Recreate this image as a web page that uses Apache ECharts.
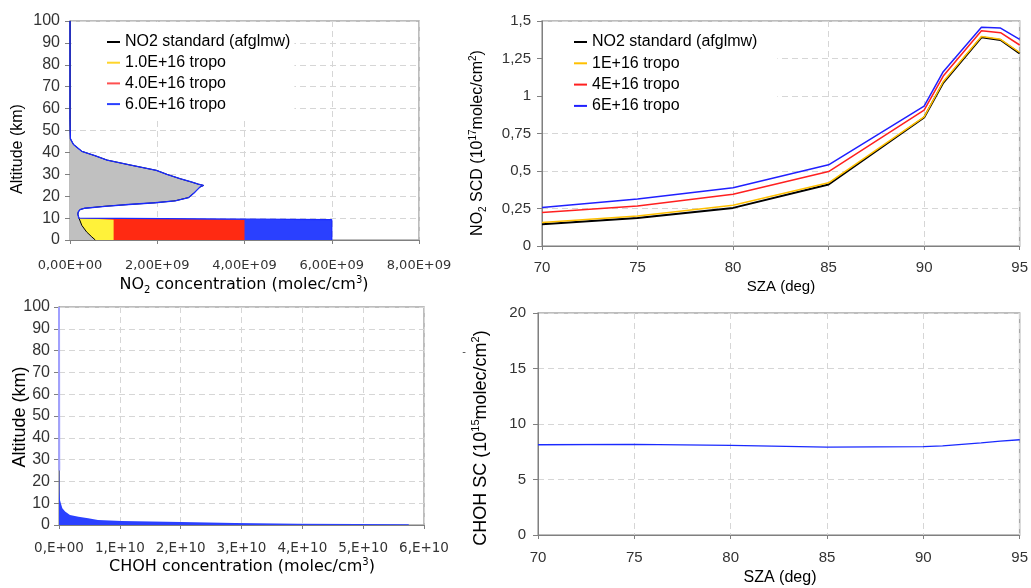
<!DOCTYPE html>
<html>
<head>
<meta charset="utf-8">
<script src="https://cdn.jsdelivr.net/npm/echarts@6/dist/echarts.min.js"></script>
<style>
html,body{margin:0;padding:0;background:#fff;}
#c{width:1031px;height:588px;}
</style>
</head>
<body>
<div id="c"></div>
<script>
// ---------- Top-left: NO2 profiles (concentration in units of 1E9 molec/cm3) ----------
const altStd = [0, 1.4, 3.7, 6.7, 9.8, 10.6, 11.8, 12.8, 13.9, 14.5, 15.4, 16.2, 17.0, 17.9, 19.4, 21.6, 23.0, 24.2, 24.9, 25.5, 26.5, 28.0, 30.0, 31.8, 34.4, 36.5, 38.5, 40.5, 43.6, 46.2, 50, 55, 100];
const no2Std = [0.58, 0.50, 0.38, 0.27, 0.21, 0.18, 0.18, 0.19, 0.23, 0.34, 0.80, 1.34, 1.95, 2.41, 2.72, 2.85, 2.92, 2.98, 3.06, 2.94, 2.78, 2.52, 2.22, 1.98, 1.34, 0.85, 0.57, 0.27, 0.08, 0.01, 0.004, 0, 0];
const tropoAlt = [0, 9.3, 10.0];
const tropo1 = [1.0, 1.0, 0.2];
const tropo4 = [4.0, 4.0, 0.2];
const tropo6 = [6.0, 6.0, 0.2];
const no2XTicks = ['0,00E+00', '2,00E+09', '4,00E+09', '6,00E+09', '8,00E+09'];

// ---------- Top-right: NO2 SCD vs SZA (1E17 molec/cm2) ----------
const sza = [70, 75, 80, 85, 90, 91, 93, 94, 95];
const scdStd = [0.145, 0.187, 0.254, 0.410, 0.857, 1.088, 1.391, 1.373, 1.284];
const scd1 = [0.156, 0.200, 0.272, 0.421, 0.861, 1.095, 1.397, 1.378, 1.290];
const scd4 = [0.223, 0.267, 0.345, 0.496, 0.906, 1.133, 1.435, 1.422, 1.340];
const scd6 = [0.256, 0.314, 0.389, 0.541, 0.933, 1.162, 1.458, 1.453, 1.378];

// ---------- Bottom-left: CHOH profile (units of 1E10 molec/cm3) ----------
const altChoh = [0, 0.3, 0.46, 0.6, 0.9, 1.4, 1.85, 2.3, 3.1, 3.8, 4.6, 6.2, 7.7, 10, 11.5, 16, 25, 25.5, 100];
const choh = [5.75, 5.75, 4.9, 3.92, 2.89, 2.01, 1.03, 0.64, 0.48, 0.32, 0.18, 0.10, 0.055, 0.03, 0.016, 0.008, 0.004, 0, 0];
const chohXTicks = ['0,E+00', '1,E+10', '2,E+10', '3,E+10', '4,E+10', '5,E+10', '6,E+10'];

// ---------- Bottom-right: CHOH SC vs SZA (1E15 molec/cm2) ----------
const szaC = [70, 75, 80, 85, 90, 91, 93, 94, 95];
const chohSC = [8.13, 8.16, 8.07, 7.92, 7.96, 8.03, 8.30, 8.45, 8.58];

// ---------- helpers ----------
const C_AXIS = '#808080', C_GRID = '#d6d6d6', C_LBL = '#333';
const SPLIT = {show: true, lineStyle: {color: C_GRID, type: [6, 4], width: 1}};
function pairs(xs, ys) { return xs.map((x, i) => [x, ys[i]]); }
function fillSeries(name, gi, xs, ys, color, z) {
  return {
    type: 'custom', name: name, xAxisIndex: gi, yAxisIndex: gi, z: z, silent: true,
    itemStyle: {color: color},
    encode: {x: 0, y: 1},
    data: pairs(xs, ys),
    renderItem: function (params, api) {
      if (params.dataIndex !== 0) return null;
      const pts = [api.coord([0, ys[0]])];
      for (let i = 0; i < xs.length; i++) pts.push(api.coord([xs[i], ys[i]]));
      pts.push(api.coord([0, ys[ys.length - 1]]));
      return {type: 'polygon', shape: {points: pts}, style: {fill: color}};
    }
  };
}
function lineSeries(name, gi, data, color, width, z) {
  return {type: 'line', name: name, xAxisIndex: gi, yAxisIndex: gi, data: data, z: z,
    showSymbol: false, symbol: 'none', lineStyle: {color: color, width: width}, itemStyle: {color: color}};
}
function xAx(gi, min, max, interval, fmt, fontFamily, fontSize, margin) {
  return {gridIndex: gi, type: 'value', min: min, max: max, interval: interval,
    axisLine: {show: true, onZero: false, lineStyle: {color: C_AXIS}},
    axisTick: {show: true, length: 4, lineStyle: {color: C_AXIS}},
    axisLabel: {formatter: fmt, fontFamily: fontFamily, fontSize: fontSize, color: C_LBL, margin: margin},
    splitLine: SPLIT};
}
function yAx(gi, min, max, interval, fmt, fontSize, margin) {
  return {gridIndex: gi, type: 'value', min: min, max: max, interval: interval,
    axisLine: {show: true, onZero: false, lineStyle: {color: C_AXIS}},
    axisTick: {show: true, length: 5, lineStyle: {color: C_AXIS}},
    axisLabel: {formatter: fmt, fontFamily: 'Liberation Sans', fontSize: fontSize, color: C_LBL, margin: margin},
    splitLine: SPLIT};
}
const comma = v => String(v).replace('.', ',');

const blueLine = pairs(tropo6, tropoAlt).concat(pairs(no2Std, altStd).filter(p => p[1] > 10));

const gridBase = {show: true, borderColor: '#a8a8a8', borderWidth: 1.5, backgroundColor: '#fff'};
const option = {
  animation: false,
  backgroundColor: '#fff',
  grid: [
    Object.assign({left: 70, top: 21, width: 349, height: 219}, gridBase),
    Object.assign({left: 542, top: 21, width: 478, height: 225}, gridBase),
    Object.assign({left: 59, top: 307, width: 365, height: 218}, gridBase),
    Object.assign({left: 538, top: 313, width: 483, height: 222}, gridBase)
  ],
  xAxis: [
    xAx(0, 0, 8, 2, v => no2XTicks[Math.round(v / 2)], 'DejaVu Sans', 13, 19),
    xAx(1, 70, 95, 5, v => String(v), 'Liberation Sans', 15, 14),
    xAx(2, 0, 6, 1, v => chohXTicks[Math.round(v)], 'DejaVu Sans', 13.5, 16),
    xAx(3, 70, 95, 5, v => String(v), 'Liberation Sans', 15, 15)
  ],
  yAxis: [
    yAx(0, 0, 100, 10, v => String(v), 16, 10),
    yAx(1, 0, 1.5, 0.25, comma, 15, 11),
    yAx(2, 0, 100, 10, v => String(v), 16, 9),
    yAx(3, 0, 20, 5, v => String(v), 15, 12)
  ],
  legend: [
    {orient: 'vertical', left: 72, top: 22, padding: [12, 4, 8, 35], backgroundColor: '#fff',
     itemWidth: 13, itemHeight: 2, itemGap: 4.7, icon: 'rect',
     textStyle: {fontFamily: 'Liberation Sans', fontSize: 16, lineHeight: 16, color: '#000'},
     data: [
       {name: 'NO2 standard (afglmw)', itemStyle: {color: '#000'}},
       {name: '1.0E+16 tropo', itemStyle: {color: '#ffd52a'}},
       {name: '4.0E+16 tropo', itemStyle: {color: '#ff5050'}},
       {name: '6.0E+16 tropo', itemStyle: {color: '#2a40ff'}}
     ]},
    {orient: 'vertical', left: 543, top: 22, padding: [12, 20, 13, 31], backgroundColor: '#fff',
     itemWidth: 13, itemHeight: 2, itemGap: 5.3, icon: 'rect',
     textStyle: {fontFamily: 'Liberation Sans', fontSize: 16, lineHeight: 16, color: '#000'},
     data: [
       {name: 'NO2 standard (afglmw)', itemStyle: {color: '#000'}},
       {name: '1E+16 tropo', itemStyle: {color: '#ffc000'}},
       {name: '4E+16 tropo', itemStyle: {color: '#ff2020'}},
       {name: '6E+16 tropo', itemStyle: {color: '#2020ff'}}
     ]}
  ],
  series: [
    fillSeries('6.0E+16 tropo', 0, tropo6, tropoAlt, '#2a40ff', 2),
    fillSeries('4.0E+16 tropo', 0, tropo4, tropoAlt, '#ff2a12', 3),
    fillSeries('1.0E+16 tropo', 0, tropo1, tropoAlt, '#fff23a', 4),
    fillSeries('std fill', 0, no2Std, altStd, '#c0c0c0', 5),
    lineSeries('NO2 standard (afglmw)', 0, pairs(no2Std, altStd), '#000', 1, 6),
    lineSeries('6.0E+16 tropo', 0, blueLine, '#1a2aff', 1.3, 7),
    lineSeries('NO2 standard (afglmw)', 1, pairs(sza, scdStd), '#000', 2, 6),
    lineSeries('1E+16 tropo', 1, pairs(sza, scd1), '#ffc000', 1.5, 6),
    lineSeries('4E+16 tropo', 1, pairs(sza, scd4), '#ff2020', 1.5, 6),
    lineSeries('6E+16 tropo', 1, pairs(sza, scd6), '#2020ff', 1.5, 6),
    fillSeries('CHOH fill', 2, choh, altChoh, '#2a40ff', 3),
    lineSeries('CHOH profile', 2, pairs(choh, altChoh).filter(p => p[1] >= 25), '#a0a0ff', 2, 4),
    lineSeries('CHOH SC', 3, pairs(szaC, chohSC), '#1a2aff', 1.3, 6)
  ],
  graphic: [
    {type: 'text', x: 18, y: 149, rotation: Math.PI / 2,
     style: {text: 'Altitude (km)', fontFamily: 'Liberation Sans', fontSize: 16, fill: '#000', align: 'center', verticalAlign: 'middle'}},
    {type: 'text', x: 244, y: 285,
     style: {text: '{n|NO}{s|2}{n| concentration (molec/cm}{p|3}{n|)}', align: 'center', verticalAlign: 'middle', fill: '#000',
       rich: {n: {fontFamily: 'DejaVu Sans', fontSize: 16, lineHeight: 20, fill: '#000'},
              s: {fontFamily: 'DejaVu Sans', fontSize: 10, lineHeight: 10, verticalAlign: 'bottom', fill: '#000'},
              p: {fontFamily: 'DejaVu Sans', fontSize: 10, lineHeight: 10, verticalAlign: 'top', fill: '#000'}}}},
    {type: 'text', x: 478, y: 143, rotation: Math.PI / 2,
     style: {text: '{n|NO}{s|2}{n| SCD (10}{p|17}{n|molec/cm}{p|2}{n|)}', align: 'center', verticalAlign: 'middle', fill: '#000',
       rich: {n: {fontFamily: 'Liberation Sans', fontSize: 16, lineHeight: 20, fill: '#000'},
              s: {fontFamily: 'Liberation Sans', fontSize: 10, lineHeight: 10, verticalAlign: 'bottom', fill: '#000'},
              p: {fontFamily: 'Liberation Sans', fontSize: 10, lineHeight: 10, verticalAlign: 'top', fill: '#000'}}}},
    {type: 'text', x: 781, y: 287,
     style: {text: 'SZA (deg)', fontFamily: 'Liberation Sans', fontSize: 15, fill: '#000', align: 'center', verticalAlign: 'middle'}},
    {type: 'text', x: 20, y: 417, rotation: Math.PI / 2,
     style: {text: 'Altitude (km)', fontFamily: 'Liberation Sans', fontSize: 18, fill: '#000', align: 'center', verticalAlign: 'middle'}},
    {type: 'text', x: 242, y: 567,
     style: {text: '{n|CHOH concentration (molec/cm}{p|3}{n|)}', align: 'center', verticalAlign: 'middle', fill: '#000',
       rich: {n: {fontFamily: 'DejaVu Sans', fontSize: 16, lineHeight: 20, fill: '#000'},
              p: {fontFamily: 'DejaVu Sans', fontSize: 10, lineHeight: 10, verticalAlign: 'top', fill: '#000'}}}},
    {type: 'text', x: 481, y: 438, rotation: Math.PI / 2,
     style: {text: '{n|CHOH SC (10}{p|15}{n|molec/cm}{p|2}{n|)}', align: 'center', verticalAlign: 'middle', fill: '#000',
       rich: {n: {fontFamily: 'Liberation Sans', fontSize: 18, lineHeight: 22, fill: '#000'},
              p: {fontFamily: 'Liberation Sans', fontSize: 11, lineHeight: 11, verticalAlign: 'top', fill: '#000'}}}},
    {type: 'text', x: 464, y: 352,
     style: {text: '-', fontFamily: 'Liberation Sans', fontSize: 11, fill: '#444', align: 'center', verticalAlign: 'middle'}},
    {type: 'text', x: 780, y: 578,
     style: {text: 'SZA (deg)', fontFamily: 'Liberation Sans', fontSize: 16, fill: '#000', align: 'center', verticalAlign: 'middle'}}
  ]
};
const chart = echarts.init(document.getElementById('c'), null, {renderer: 'canvas'});
chart.setOption(option);
</script>
</body>
</html>
